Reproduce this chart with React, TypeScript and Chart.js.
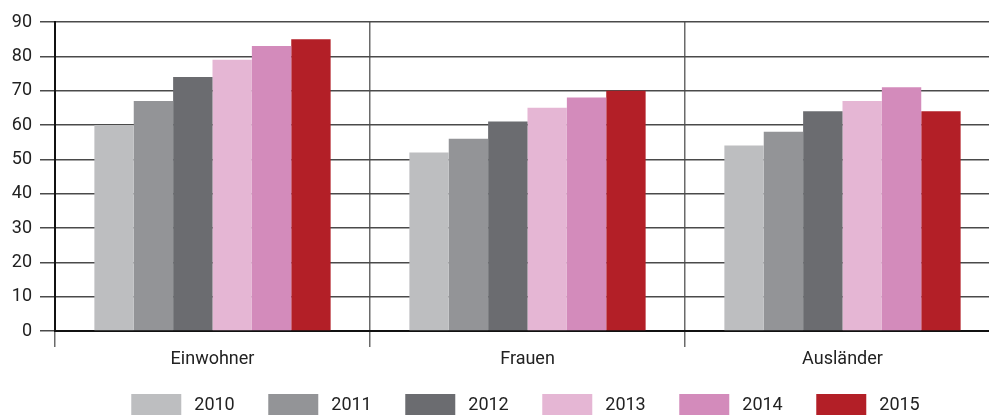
import React, { useEffect, useRef } from "react";
import { Chart, registerables } from "chart.js";

Chart.register(...registerables);

const categories = ["Einwohner", "Frauen", "Ausländer"];
const years = ["2010", "2011", "2012", "2013", "2014", "2015"];
const values2010 = [60, 52, 54];
const values2011 = [67, 56, 58];
const values2012 = [74, 61, 64];
const values2013 = [79, 65, 67];
const values2014 = [83, 68, 71];
const values2015 = [85, 70, 64];
const seriesValues = [values2010, values2011, values2012, values2013, values2014, values2015];
const colors = ["#bdbec0", "#939497", "#6b6c70", "#e5b6d4", "#d38bbb", "#b31f27"];
const yMin = 0;
const yMax = 90;
const yStep = 10;

const FONT = "Roboto, 'Open Sans', sans-serif";
const TEXT = "#222222";

const legendPlugin = {
  id: "customLegend",
  afterDraw(chart: any) {
    const ctx = chart.ctx;
    const { left, right } = chart.chartArea;
    const ds = chart.data.datasets;
    const boxW = 50;
    const boxH = 21;
    const gap = 13;
    const pitch = 137;
    ctx.save();
    ctx.font = `18px ${FONT}`;
    const lastW = ctx.measureText(ds[ds.length - 1].label).width;
    const total = pitch * (ds.length - 1) + boxW + gap + lastW;
    let x = (left + right) / 2 - total / 2 - 2;
    const y = 394;
    ds.forEach((d: any) => {
      ctx.fillStyle = d.backgroundColor;
      ctx.fillRect(x, y, boxW, boxH);
      ctx.fillStyle = TEXT;
      ctx.textBaseline = "middle";
      ctx.textAlign = "left";
      ctx.fillText(d.label, x + boxW + gap, y + boxH / 2 + 1);
      x += pitch;
    });
    ctx.restore();
  },
};

export default function App() {
  const ref = useRef<HTMLCanvasElement | null>(null);

  useEffect(() => {
    if (!ref.current) return;
    const chart = new Chart(ref.current, {
      type: "bar",
      data: {
        labels: categories,
        datasets: years.map((y, i) => ({
          label: y,
          data: seriesValues[i],
          backgroundColor: colors[i],
          borderWidth: 0,
          barPercentage: 1,
          categoryPercentage: 0.75,
        })),
      },
      options: {
        responsive: false,
        animation: false,
        layout: { padding: { top: 22, left: 0, right: 0, bottom: 0 } },
        plugins: {
          legend: { display: false },
          tooltip: { enabled: false },
        },
        scales: {
          x: {
            grid: {
              offset: true,
              color: "#6a6a6a",
              lineWidth: 1.5,
              tickLength: 16,
              drawTicks: true,
            },
            border: { display: true, color: "#111", width: 2 },
            ticks: {
              color: TEXT,
              font: { family: FONT, size: 18 },
              padding: 2,
            },
            afterFit: (s: any) => {
              s.height = 84;
            },
          },
          y: {
            min: yMin,
            max: yMax,
            ticks: {
              stepSize: yStep,
              color: TEXT,
              font: { family: FONT, size: 18 },
              padding: 8,
            },
            grid: {
              color: "#4a4a4a",
              lineWidth: 1.5,
              tickLength: 15,
              drawTicks: true,
            },
            border: { display: true, color: "#111", width: 2 },
            afterFit: (s: any) => {
              s.width = 55;
            },
          },
        },
      },
      plugins: [legendPlugin],
    });
    return () => chart.destroy();
  }, []);

  return (
    <div
      style={{
        position: "fixed",
        left: 0,
        top: 0,
        width: 989,
        height: 415,
        overflow: "hidden",
        background: "#fff",
      }}
    >
      <canvas ref={ref} width={1000} height={415} style={{ display: "block" }} />
    </div>
  );
}
